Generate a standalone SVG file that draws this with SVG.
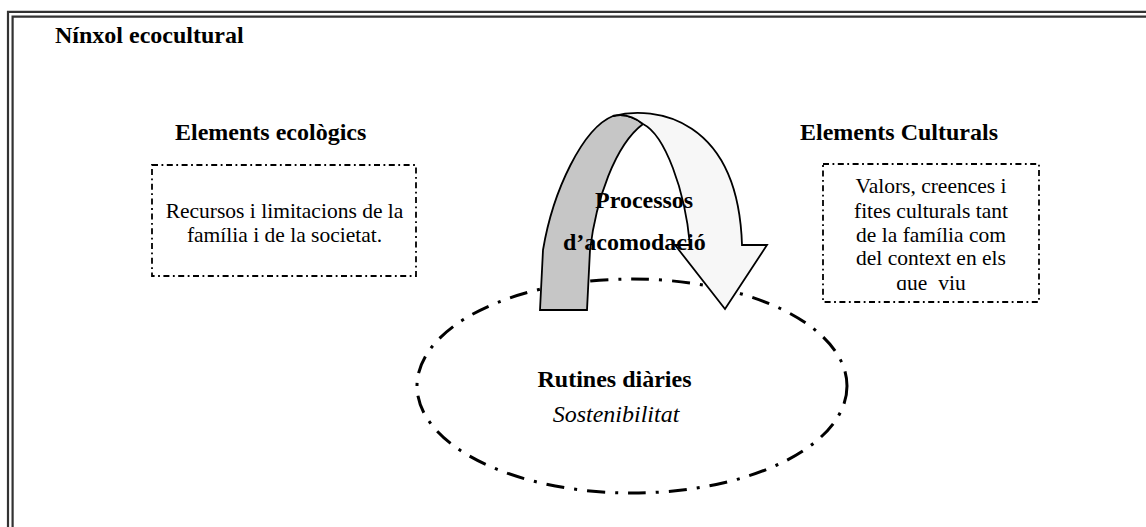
<svg xmlns="http://www.w3.org/2000/svg" width="1146" height="527" viewBox="0 0 1146 527">
  <style>
    text { font-family: "Liberation Serif", "Times New Roman", serif; fill: #000; }
    .h { font-size: 24px; font-weight: bold; }
    .t { font-size: 21.5px; }
    .it { font-size: 24px; font-style: italic; }
    .frame { fill: none; stroke: #333; stroke-width: 2.2; }
    .box { fill: none; stroke: #000; stroke-width: 1.8; stroke-dasharray: 6 3.5 1.8 3.5; }
    .oval { fill: none; stroke: #000; stroke-width: 3; stroke-dasharray: 18 10 3 10; }
    .band { stroke: #000; stroke-width: 1.8; stroke-linejoin: miter; }
  </style>
  <defs>
    <clipPath id="culturalClip">
      <rect x="823" y="164" width="216" height="126"/>
    </clipPath>
  </defs>

  <rect width="1146" height="527" fill="#fff"/>

  <!-- double frame: top and left edges only -->
  <g id="frame">
    <path class="frame" d="M8,527 V11.8 H1146"/>
    <path class="frame" d="M12.6,527 V16.6 H1146"/>
    <text class="h" x="55" y="43">Nínxol ecocultural</text>
  </g>

  <g id="ecological">
    <text class="h" x="175" y="140">Elements ecològics</text>
    <rect class="box" x="152" y="165" width="264" height="111"/>
    <text class="t" text-anchor="middle" x="284.5" y="218">Recursos i limitacions de la</text>
    <text class="t" text-anchor="middle" x="284.5" y="242">família i de la societat.</text>
  </g>

  <g id="cultural">
    <text class="h" x="800" y="140">Elements Culturals</text>
    <rect class="box" x="823" y="164" width="216" height="138"/>
    <g clip-path="url(#culturalClip)">
      <text class="t" text-anchor="middle" x="931" y="193">Valors, creences i</text>
      <text class="t" text-anchor="middle" x="931" y="218">fites culturals tant</text>
      <text class="t" text-anchor="middle" x="931" y="242">de la família com</text>
      <text class="t" text-anchor="middle" x="931" y="265">del context en els</text>
      <text class="t" text-anchor="middle" x="931" y="290" xml:space="preserve">que  viu</text>
    </g>
  </g>

  <g id="routines">
    <ellipse class="oval" cx="632" cy="386" rx="215" ry="107"/>
    <text class="h" text-anchor="middle" x="614.5" y="387">Rutines diàries</text>
    <text class="it" text-anchor="middle" x="616" y="422">Sostenibilitat</text>
  </g>

  <g id="connectors">
    <!-- curved arrow: back face of the ribbon -->
    <path class="band" fill="#c6c6c6" d="M540,310 L587,310 L590,250 C596,200 615,145 643,124 C633,116 622,114 613,116 C583,128 553,190 543,250 Z"/>
    <!-- front face with arrowhead -->
    <path class="band" fill="#f7f7f7" d="M613,116 C655,105 738,118 742,245 L767,245 L725,309 L675,245 L690,245 C685,190 665,135 643,124 C633,116 622,114 613,116 Z"/>
  </g>

  <g id="accommodation">
    <text class="h" x="595" y="208">Processos</text>
    <text class="h" x="563" y="250">d’acomodació</text>
  </g>
</svg>
